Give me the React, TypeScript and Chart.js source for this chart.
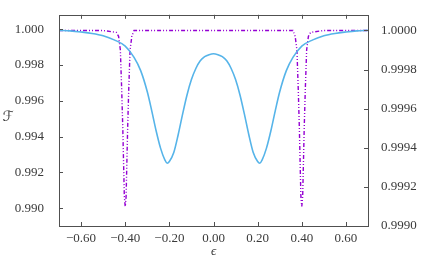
import React, { useEffect, useRef } from "react";
import { Chart, registerables } from "chart.js";

Chart.register(...registerables);

// ---- data ----
const blueX = [
  -0.70, -0.65, -0.60, -0.55, -0.50, -0.45, -0.40, -0.36, -0.33, -0.30, -0.28, -0.26, -0.24,
  -0.22, -0.21, -0.20, -0.18, -0.16, -0.14, -0.12, -0.10, -0.08, -0.06, -0.04, -0.02, 0.00,
  0.02, 0.04, 0.06, 0.08, 0.10, 0.12, 0.14, 0.16, 0.18, 0.20, 0.21, 0.22, 0.24, 0.26, 0.28,
  0.30, 0.33, 0.36, 0.40, 0.45, 0.50, 0.55, 0.60, 0.65, 0.70,
];
const blueY = [
  0.99993, 0.9999, 0.99984, 0.99976, 0.99963, 0.9994, 0.99905, 0.99842, 0.99768, 0.9965,
  0.99545, 0.99432, 0.99335, 0.99268, 0.99251, 0.9926, 0.9931, 0.9941, 0.99525, 0.99632,
  0.99718, 0.9978, 0.99823, 0.99846, 0.99857, 0.99862,
  0.99857, 0.99846, 0.99823, 0.9978, 0.99718, 0.99632, 0.99525, 0.9941, 0.9931, 0.9926,
  0.99251, 0.99268, 0.99335, 0.99432, 0.99545, 0.9965, 0.99768, 0.99842, 0.99905, 0.9994,
  0.99963, 0.99976, 0.99984, 0.9999, 0.99993,
];

const purpleX = [
  -0.70, -0.50, -0.44, -0.43, -0.422, -0.416, -0.411, -0.407, -0.404, -0.40, -0.396, -0.393,
  -0.389, -0.384, -0.378, -0.37, -0.36, -0.30, 0.00, 0.30, 0.36, 0.37, 0.378, 0.384, 0.389,
  0.393, 0.396, 0.40, 0.404, 0.407, 0.411, 0.416, 0.422, 0.43, 0.44, 0.50, 0.70,
];
const purpleY = [
  1.0, 1.0, 0.99999, 0.99997, 0.9999, 0.9997, 0.9995, 0.9993, 0.99915, 0.9991, 0.99915,
  0.9993, 0.9995, 0.9997, 0.9999, 0.99997, 1.0, 1.0, 1.0, 1.0, 1.0, 0.99997, 0.9999,
  0.9997, 0.9995, 0.9993, 0.99915, 0.9991, 0.99915, 0.9993, 0.9995, 0.9997, 0.9999,
  0.99997, 0.99999, 1.0, 1.0,
];

const xTicks = [-0.6, -0.4, -0.2, 0.0, 0.2, 0.4, 0.6];
const leftTicks = [0.99, 0.992, 0.994, 0.996, 0.998, 1.0];
const rightTicks = [0.999, 0.9992, 0.9994, 0.9996, 0.9998, 1.0];

const xTitle = "ϵ";
const yTitle = "ℱ";

const TEXT = "#3a3a3a";
const FRAME = "#505050";
const FAMILY = "'Liberation Serif', 'Times New Roman', Tinos, Times, serif";
const FONT = { family: FAMILY, size: 13 };

const fmtX = (v: number) => (v < -1e-9 ? "−" + Math.abs(v).toFixed(2) : Math.abs(v).toFixed(2));

const framePlugin = {
  id: "framePlugin",
  afterDraw(chart: any) {
    const { ctx, chartArea: a, scales } = chart;
    ctx.save();
    ctx.strokeStyle = FRAME;
    ctx.lineWidth = 1;
    ctx.strokeRect(Math.round(a.left) + 0.5, Math.round(a.top) + 0.5, Math.round(a.right - a.left), Math.round(a.bottom - a.top));
    const L = 4;
    ctx.beginPath();
    xTicks.forEach((v) => {
      const px = Math.round(scales.x.getPixelForValue(v)) + 0.5;
      ctx.moveTo(px, a.bottom);
      ctx.lineTo(px, a.bottom - L);
      ctx.moveTo(px, a.top);
      ctx.lineTo(px, a.top + L);
    });
    leftTicks.forEach((v) => {
      const py = Math.round(scales.y.getPixelForValue(v)) + 0.5;
      ctx.moveTo(a.left, py);
      ctx.lineTo(a.left + L, py);
    });
    rightTicks.forEach((v) => {
      const py = Math.round(scales.y1.getPixelForValue(v)) + 0.5;
      ctx.moveTo(a.right, py);
      ctx.lineTo(a.right - L, py);
    });
    ctx.stroke();
    ctx.fillStyle = TEXT;
    ctx.textAlign = "center";
    ctx.textBaseline = "middle";
    ctx.font = "italic 13px " + FAMILY;
    ctx.fillText(xTitle, (a.left + a.right) / 2, 252);
    ctx.font = "14px 'DejaVu Sans', serif";
    ctx.fillText(yTitle, 8, 117);
    ctx.restore();
  },
};

export default function App() {
  const ref = useRef<HTMLCanvasElement>(null);
  useEffect(() => {
    document.body.style.margin = "0";
    const canvas = ref.current;
    if (!canvas) return;
    const chart = new Chart(canvas, {
      type: "line",
      data: {
        datasets: [
          {
            data: blueX.map((x, i) => ({ x, y: blueY[i] })),
            borderColor: "#56b4e9",
            borderWidth: 1.6,
            pointRadius: 0,
            cubicInterpolationMode: "monotone",
            yAxisID: "y",
          },
          {
            data: purpleX.map((x, i) => ({ x, y: purpleY[i] })),
            borderColor: "#9400d3",
            borderWidth: 1.4,
            borderDash: [4, 2, 1, 2, 1, 2],
            pointRadius: 0,
            tension: 0,
            yAxisID: "y1",
          },
        ],
      },
      options: {
        animation: false,
        responsive: true,
        maintainAspectRatio: false,
        layout: { padding: { top: 14, left: 0, right: 0, bottom: 0 } },
        plugins: { legend: { display: false }, tooltip: { enabled: false } },
        scales: {
          x: {
            type: "linear",
            position: "bottom",
            min: -0.7,
            max: 0.7,
            grid: { display: false },
            border: { display: false },
            ticks: { padding: -3, font: FONT, color: TEXT, maxRotation: 0, autoSkip: false, callback: (v: any) => fmtX(Number(v)) },
            afterBuildTicks: (s: any) => { s.ticks = xTicks.map((value) => ({ value })); },
            afterFit: (s: any) => { s.height = 37; },
          },
          y: {
            type: "linear",
            position: "left",
            min: 0.989,
            max: 1.0008,
            grid: { display: false },
            border: { display: false },
            ticks: { padding: 7, font: FONT, color: TEXT, autoSkip: false, callback: (v: any) => Number(v).toFixed(3) },
            afterBuildTicks: (s: any) => { s.ticks = leftTicks.map((value) => ({ value })); },
            afterFit: (s: any) => { s.width = 59; },
          },
          y1: {
            type: "linear",
            position: "right",
            min: 0.999,
            max: 1.00008,
            grid: { display: false },
            border: { display: false },
            ticks: { padding: 5, font: FONT, color: TEXT, autoSkip: false, callback: (v: any) => Number(v).toFixed(4) },
            afterBuildTicks: (s: any) => { s.ticks = rightTicks.map((value) => ({ value })); },
            afterFit: (s: any) => { s.width = 68; },
          },
        },
      } as any,
      plugins: [framePlugin],
    });
    return () => chart.destroy();
  }, []);
  return (
    <div style={{ position: "relative", width: 436, height: 263 }}>
      <canvas ref={ref} />
    </div>
  );
}
